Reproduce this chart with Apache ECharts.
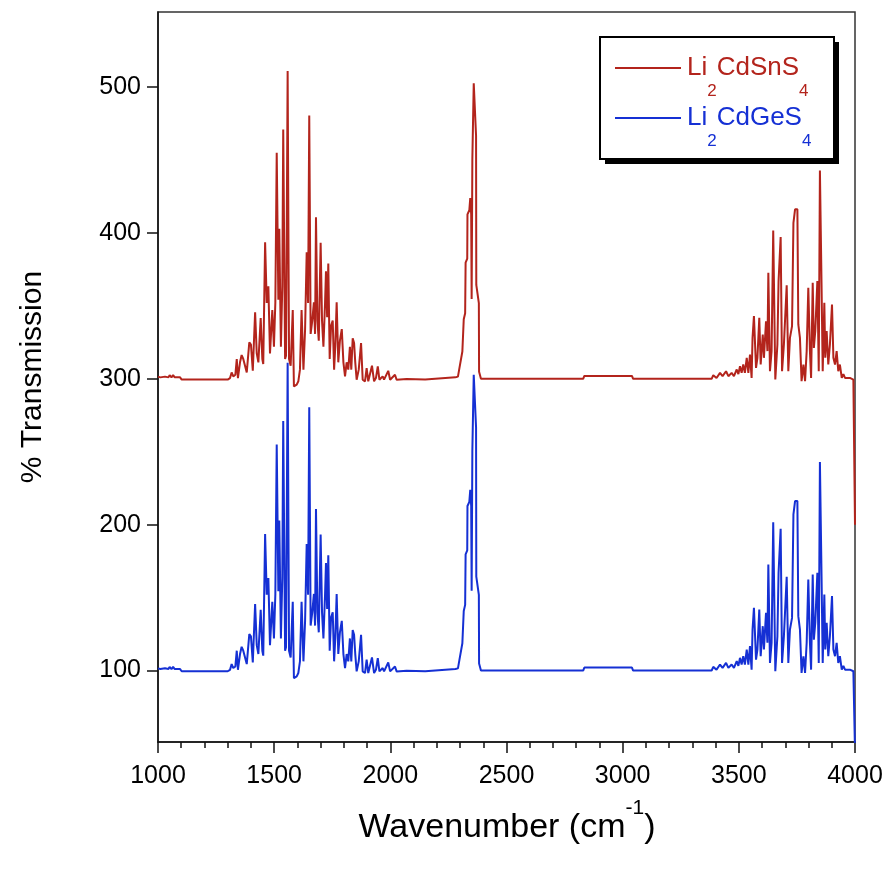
<!DOCTYPE html>
<html><head><meta charset="utf-8">
<script src="https://cdn.jsdelivr.net/npm/echarts@6/dist/echarts.min.js"></script>
<style>html,body{margin:0;padding:0;background:#fff}#c{width:890px;height:874px}</style>
</head><body><div id="c"></div>
<script>
const wavenumbers = [1000,1010,1030,1045,1050,1058,1065,1072,1095,1102,1300,1310,1317,1324,1333,1339,1344,1353,1360,1367,1375,1382,1393,1400,1408,1418,1425,1432,1442,1449,1453,1461,1468,1475,1482,1492,1499,1505,1511,1518,1522,1529,1535,1539,1547,1551,1558,1564,1571,1580,1585,1597,1604,1611,1618,1626,1633,1640,1646,1651,1657,1664,1671,1676,1680,1686,1692,1700,1706,1712,1719,1723,1728,1733,1739,1745,1752,1758,1763,1769,1776,1783,1791,1798,1805,1812,1819,1826,1832,1838,1844,1849,1855,1864,1874,1881,1891,1898,1905,1913,1921,1930,1938,1946,1953,1967,1973,1991,1999,2020,2027,2070,2150,2155,2280,2291,2297,2310,2316,2322,2324,2331,2332,2340,2344,2348,2350,2353,2359,2369,2370,2381,2382,2390,2830,2835,3040,3045,3383,3390,3404,3419,3430,3445,3455,3469,3479,3491,3498,3505,3512,3519,3526,3534,3541,3548,3555,3559,3565,3574,3580,3588,3594,3603,3608,3617,3623,3627,3634,3641,3648,3657,3666,3671,3680,3686,3694,3700,3706,3713,3720,3729,3735,3742,3752,3756,3763,3770,3778,3785,3792,3799,3806,3811,3818,3823,3829,3838,3844,3849,3856,3861,3868,3872,3878,3885,3892,3901,3907,3914,3921,3928,3935,3943,3950,3957,3964,3978,3993,4000,4000];

const cdsns = [301.5,301,301.5,301,302.5,301,302.5,301,301,299.5,299.5,300.5,304.4,301.7,302.8,313.6,300.5,311.3,316.3,313.6,314.7,304.4,325,323.5,305.5,345.6,317.4,311.3,341.7,313.6,310.2,393.6,352,363.4,317.4,347.2,322,352,455,354.3,402.8,322,363.4,471,313.6,315.9,511,313.6,309,347.2,294.8,296,298.3,306.3,347.2,306.3,333.7,386.8,352,480.5,330.8,339.9,352.5,330.8,410.8,339.9,326.2,393.2,339.9,322,352,373.7,342.2,379,313.6,336.5,339.9,306.3,322,352.5,311.3,326.2,334.1,311.3,301.7,311.3,306.3,322,306.3,327.8,324.5,311.3,299.4,306.3,324.5,299.4,298.3,307.4,298.3,299.4,309,298.3,300.5,308.5,299.4,301.7,299.4,305.5,299.4,302.8,299.4,299.9,299.5,300.8,301,301.5,307,318.7,340.8,345,379.6,382.4,412.8,415.6,423.9,412.8,354.7,450.2,502.7,466.7,364.4,351.9,304.9,300,300,302,302,300,300,302.5,300.6,304.1,301.8,305.2,301.8,304.1,301.8,306.4,303.2,308.7,304.1,309.8,304.1,314.4,304.1,316.7,300.6,328.1,343,307.5,314.4,341.8,309.8,330.4,314.4,339.5,319,372.7,305.2,319,401.7,299.5,323.5,367,397.2,305.2,323.5,323.5,364.2,305.2,328.1,336.1,407,416.2,416.2,337.3,328.1,298.4,309.8,298.4,319,362.4,319,300.6,365.8,321.2,332.7,367,305.2,442.9,364.7,305.2,352.1,314.4,332.7,309.8,323.5,351,314.4,309.8,319,305.2,309.8,300.6,303.2,300.6,299.5,300.6,299.5,300,200];

const cdges = [101.5,101,101.5,101,102.5,101,102.5,101,101,99.5,99.5,100.5,104.4,101.7,102.8,113.6,100.5,111.3,116.3,113.6,114.7,104.4,125,123.5,105.5,145.6,117.4,111.3,141.7,113.6,110.2,193.6,152,163.4,117.4,147.2,122,152,255,154.3,202.8,122,163.4,271,113.6,115.9,311,113.6,109,147.2,94.8,96,98.3,106.3,147.2,106.3,133.7,186.8,152,280.5,130.8,139.9,152.5,130.8,210.8,139.9,126.2,193.2,139.9,122,152,173.7,142.2,179,113.6,136.5,139.9,106.3,122,152.5,111.3,126.2,134.1,111.3,101.7,111.3,106.3,122,106.3,127.8,124.5,111.3,99.4,106.3,124.5,99.4,98.3,107.4,98.3,99.4,109,98.3,100.5,108.5,99.4,101.7,99.4,105.5,99.4,102.8,99.4,99.9,99.5,100.8,101,101.5,107,118.7,140.8,145,179.6,182.4,212.8,215.6,223.9,212.8,154.7,250.2,302.7,266.7,164.4,151.9,104.9,100,100,102,102,100,100,102.5,100.6,104.1,101.8,105.2,101.8,104.1,101.8,106.4,103.2,108.7,104.1,109.8,104.1,114.4,104.1,116.7,100.6,128.1,143,107.5,114.4,141.8,109.8,130.4,114.4,139.5,119,172.7,105.2,119,201.7,99.5,123.5,167,197.2,105.2,123.5,123.5,164.2,105.2,128.1,136.1,207,216.2,216.2,137.3,128.1,98.4,109.8,98.4,119,162.4,119,100.6,165.8,121.2,132.7,167,105.2,242.9,164.7,105.2,152.1,114.4,132.7,109.8,123.5,151,114.4,109.8,119,105.2,109.8,100.6,103.2,100.6,99.5,100.6,99.5,100,45];

const seriesNames = ['Li2CdSnS4', 'Li2CdGeS4'];
const legendParts = [['Li', '2', 'CdSnS', '4'], ['Li', '2', 'CdGeS', '4']];
const yTickValues = [100, 200, 300, 400, 500];
const colors = ['#b3241c', '#1530d4'];
const FONT = '"Liberation Sans", Arial, sans-serif';

const chart = echarts.init(document.getElementById('c'), null, {renderer: 'canvas'});

const rich = {sp: {width: 1, lineHeight: 64}};
['r', 'b'].forEach((k, i) => {
  rich[k + 'm'] = {color: colors[i], fontSize: 26, lineHeight: 26, verticalAlign: 'middle', fontFamily: FONT};
  rich[k + 's'] = {color: colors[i], fontSize: 17, lineHeight: 17, verticalAlign: 'bottom', fontFamily: FONT};
});

chart.setOption({
  animation: false,
  backgroundColor: '#fff',
  grid: {left: 158, right: 35, top: 12, bottom: 132, show: true, borderColor: '#333', borderWidth: 1.5},
  graphic: [
    {type: 'rect', z: 90, silent: true, shape: {x: 605, y: 42, width: 234, height: 122}, style: {fill: '#000'}},
    {type: 'rect', z: 91, silent: true, shape: {x: 600, y: 37, width: 234, height: 122}, style: {fill: '#fff', stroke: '#000', lineWidth: 2}}
  ],
  legend: {
    z: 100,
    left: 601, top: 55, orient: 'vertical',
    padding: [0, 0, 0, 14], itemGap: 5,
    itemWidth: 66, itemHeight: 2, icon: 'rect',
    data: seriesNames,
    formatter: function (name) {
      const i = seriesNames.indexOf(name);
      const k = i === 0 ? 'r' : 'b';
      const p = legendParts[i];
      return '{sp| }{' + k + 'm|' + p[0] + '}{' + k + 's|' + p[1] + '}{' + k + 'm|' + p[2] + '}{' + k + 's|' + p[3] + '}';
    },
    textStyle: {rich: rich}
  },
  xAxis: {
    type: 'value', min: 1000, max: 4000, interval: 500,
    name: '{sp| }{n|Wavenumber (cm}{sup|-1}{n|)}',
    nameLocation: 'middle', nameGap: 56,
    nameTextStyle: {rich: {
      sp: {width: 1, lineHeight: 60},
      n: {fontSize: 34, lineHeight: 34, verticalAlign: 'middle', color: '#000', fontFamily: FONT},
      sup: {fontSize: 21, lineHeight: 21, verticalAlign: 'top', color: '#000', fontFamily: FONT}
    }},
    axisLine: {show: true, onZero: false, lineStyle: {color: '#111', width: 1.5}},
    axisTick: {show: true, inside: false, length: 11, lineStyle: {color: '#111', width: 1.5}},
    minorTick: {show: true, splitNumber: 5, length: 6, lineStyle: {color: '#111', width: 1.5}},
    axisLabel: {fontSize: 25, color: '#000', margin: 22, fontFamily: FONT, formatter: v => String(v)},
    splitLine: {show: false}
  },
  yAxis: {
    type: 'value', min: 51, max: 551.5,
    name: '% Transmission', nameLocation: 'middle', nameGap: 110,
    nameTextStyle: {fontSize: 30, color: '#000', fontFamily: FONT},
    axisLine: {show: true, onZero: false, lineStyle: {color: '#111', width: 1.5}},
    axisTick: {show: true, inside: false, length: 11, customValues: yTickValues, lineStyle: {color: '#111', width: 1.5}},
    axisLabel: {fontSize: 25, color: '#000', margin: 17, fontFamily: FONT, customValues: yTickValues, formatter: v => String(v)},
    splitLine: {show: false}
  },
  series: [
    {name: seriesNames[0], type: 'line', symbol: 'none', showSymbol: false,
     lineStyle: {color: colors[0], width: 2}, itemStyle: {color: colors[0]},
     data: wavenumbers.map((w, i) => [w, cdsns[i]])},
    {name: seriesNames[1], type: 'line', symbol: 'none', showSymbol: false,
     lineStyle: {color: colors[1], width: 2}, itemStyle: {color: colors[1]},
     data: wavenumbers.map((w, i) => [w, cdges[i]])}
  ]
});
</script>
</body></html>
